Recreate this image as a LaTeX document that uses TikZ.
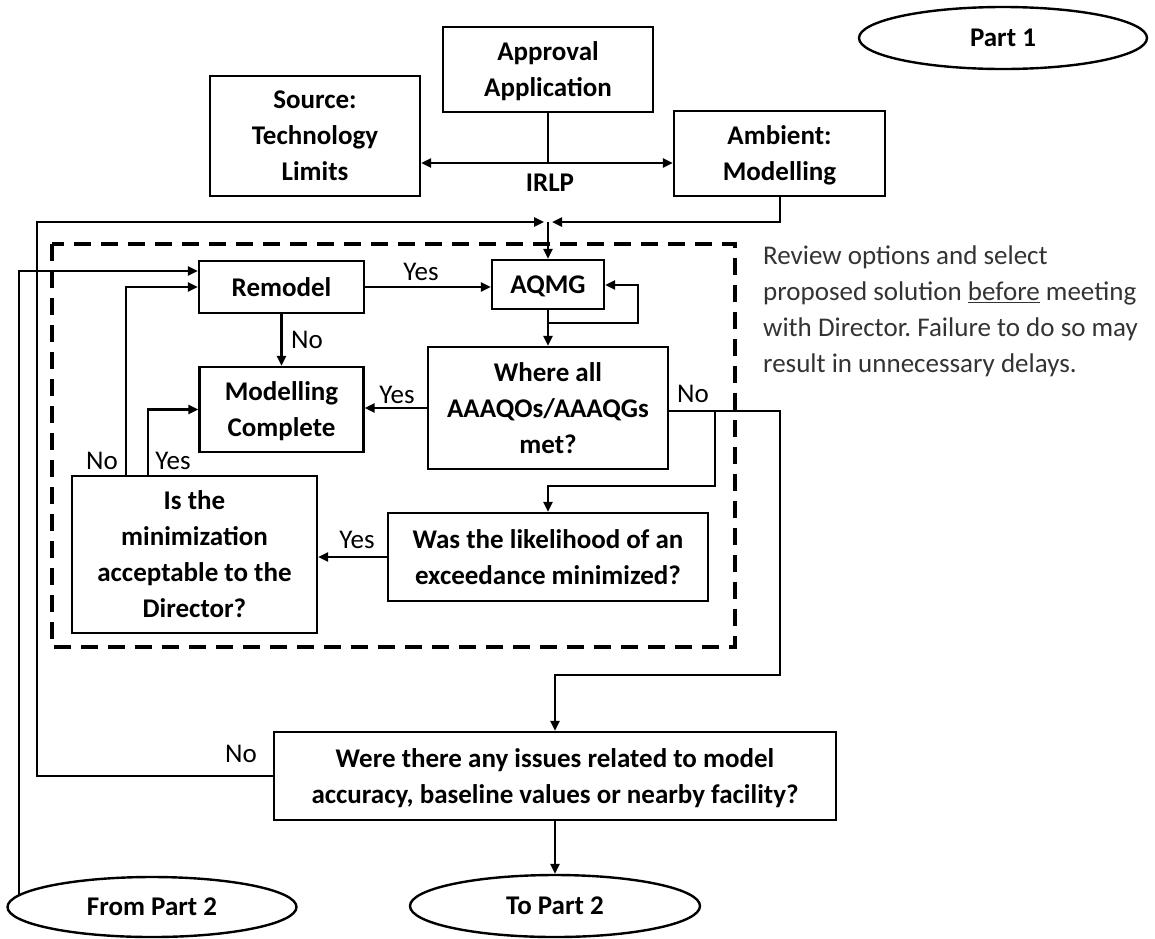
\documentclass[tikz,border=0pt]{standalone}
\usepackage{fontspec}
\setmainfont{Carlito}
\usetikzlibrary{arrows.meta,shapes.geometric}
\frenchspacing
\begin{document}
\begin{tikzpicture}[x=1pt,y=-1pt,
  box/.style={draw, line width=2.4pt, rectangle, inner sep=0pt, align=center, text depth=0pt, font=\fontsize{27}{36}\selectfont\bfseries},
  oval/.style={draw, line width=2.4pt, ellipse, inner sep=0pt, font=\fontsize{27}{36}\selectfont\bfseries},
  lbl/.style={font=\fontsize{27}{36}\selectfont, inner sep=0pt},
  conn/.style={line width=2.4pt},
  arr/.style={conn, -{Triangle[length=10pt,width=9pt]}},
]
\useasboundingbox (0,0) rectangle (1155,938);
% nodes
\node[oval, minimum width=288pt, minimum height=62pt] (part1) at (1003,38) {Part 1};
\node[box, minimum width=210pt, minimum height=85pt] (approval) at (548,69.5) {Approval\\Application};
\node[box, minimum width=210pt, minimum height=120pt] (source) at (315,136) {Source:\\Technology\\Limits};
\node[box, minimum width=211pt, minimum height=85pt] (ambient) at (779.5,153.5) {Ambient:\\Modelling};
\node[lbl, font=\fontsize{27}{36}\selectfont\bfseries] (irlp) at (550,183) {IRLP};
\node[box, minimum width=165pt, minimum height=52pt] (remodel) at (281.5,287) {Remodel};
\node[box, minimum width=112pt, minimum height=49pt] (aqmg) at (548,284.5) {AQMG};
\node[box, minimum width=164pt, minimum height=85pt] (mc) at (281.5,409.5) {Modelling\\Complete};
\node[box, minimum width=240pt, minimum height=122pt] (where) at (548,408) {Where all\\AAAQOs/AAAQGs\\met?};
\node[box, minimum width=245pt, minimum height=157pt] (isthe) at (194.5,554.5) {Is the\\minimization\\acceptable to the\\Director?};
\node[box, minimum width=320pt, minimum height=88pt] (was) at (548,557) {Was the likelihood of an\\exceedance minimized?};
\node[box, minimum width=562pt, minimum height=88pt] (were) at (555,776) {Were there any issues related to model\\accuracy, baseline values or nearby facility?};
\node[oval, minimum width=289pt, minimum height=60pt] (from) at (152,907) {From Part 2};
\node[oval, minimum width=290pt, minimum height=62pt] (to) at (555,906) {To Part 2};
% note
\node[lbl, anchor=west, align=left, text=black!80] (note) at (763,311)
  {Review options and select\\proposed solution \underline{before} meeting\\with Director. Failure to do so may\\result in unnecessary delays.};
% dashed group
\draw[line width=4pt, dash pattern=on 17pt off 10pt] (52,244) rectangle (735,647);
% coordinates
\coordinate (irj) at (548,163);
\coordinate (amb1) at (780,222);
\coordinate (jr) at (552,222);
\coordinate (jl) at (544,222);
\coordinate (jtop) at (548,222);
\coordinate (lp1) at (548,323);
\coordinate (lp2) at (638,323);
\coordinate (lp3) at (638,285);
\coordinate (n1) at (780,411);
\coordinate (n2) at (780,675);
\coordinate (n3) at (555,675);
\coordinate (b1) at (715,411);
\coordinate (b2) at (715,486);
\coordinate (b3) at (548,486);
\coordinate (ycol) at (148,0);
\coordinate (ncol) at (126,0);
\coordinate (fs) at (19,895);
\coordinate (f2) at (19,271);
\coordinate (wcol) at (37,0);
% connectors
\draw[conn] (approval.south) -- (irj);
\draw[arr] (irj) -- (irj -| source.east);
\draw[arr] (irj) -- (irj -| ambient.west);
\draw[arr] (ambient.south -| amb1) -- (amb1) -- (jr);
\draw[arr] (jtop) -- (aqmg.north);
\draw[arr] (remodel.east) -- (remodel.east -| aqmg.west);
\draw[arr] (aqmg.south) -- (where.north);
\draw[arr] (lp1) -- (lp2) -- (lp3) -- (lp3 -| aqmg.east);
\draw[arr] (remodel.south) -- (mc.north);
\draw[arr] (where.west) -- (where.west -| mc.east);
\draw[arr] (where.east |- n1) -- (n1) -- (n2) -- (n3) -- (were.north);
\draw[arr] (b1) -- (b2) -- (b3) -- (was.north);
\draw[arr] (was.west) -- (was.west -| isthe.east);
\draw[arr] (isthe.north -| ycol) -- (ycol |- mc.west) -- (mc.west);
\draw[arr] (isthe.north -| ncol) -- (ncol |- remodel.west) -- (remodel.west);
\draw[arr] (fs) -- (f2) -- (f2 -| remodel.west);
\draw[arr] (were.west) -- (were.west -| wcol) -- (wcol |- jl) -- (jl);
\draw[arr] (were.south) -- (to.north);
% labels
\node[lbl] (l1) at (421,272) {Yes};
\node[lbl] (l2) at (307,340) {No};
\node[lbl] (l3) at (397,395) {Yes};
\node[lbl] (l4) at (693,394) {No};
\node[lbl] (l5) at (102,461) {No};
\node[lbl] (l6) at (173,461) {Yes};
\node[lbl] (l7) at (357,540) {Yes};
\node[lbl] (l8) at (241,754) {No};
\end{tikzpicture}
\end{document}
